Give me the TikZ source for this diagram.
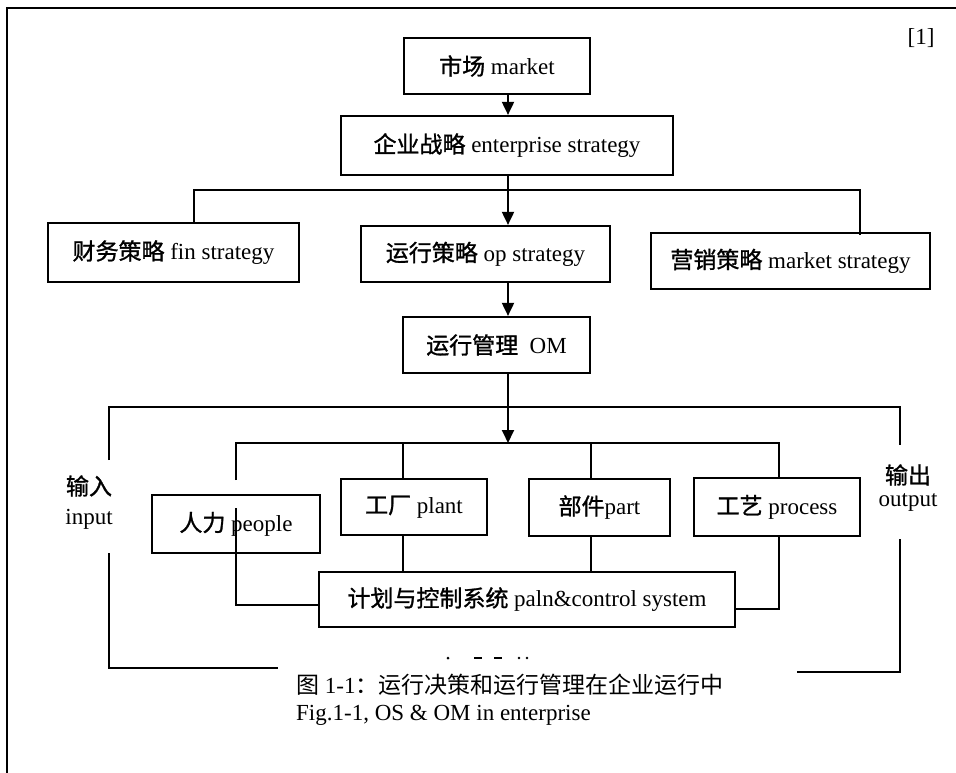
\documentclass[tikz,border=0pt]{standalone}
\usepackage{fontspec}
\setmainfont{Liberation Serif}
\newfontfamily\cjk[FakeBold=1.2]{Noto Sans CJK SC}
\newfontfamily\cjkcap{Noto Sans CJK SC}
\usetikzlibrary{arrows.meta}
\begin{document}
\begin{tikzpicture}[x=1pt,y=-1pt,
  box/.style={draw, line width=2.2pt, inner sep=0pt, font=\fontsize{23}{27}\selectfont},
  conn/.style={line width=1.9pt},
  arr/.style={conn, -{Triangle[length=13pt,width=12pt]}},
  lab/.style={font=\fontsize{23}{27}\selectfont, inner sep=0pt},
  frame/.style={line width=2.8pt}]
\useasboundingbox (0,0) rectangle (956,773);
% outer frame (left and top only, cut at image edges)
\coordinate (fbl) at (7,773);
\coordinate (ftl) at (7,8);
\coordinate (ftr) at (956,8);
\draw[frame] (fbl) -- (ftl) -- (ftr);
\node[lab] (ref) at (921,38) {[1]};
% boxes
\node[box, minimum width=186pt, minimum height=56pt] (market) at (497,66) {{\cjk 市场} market};
\node[box, minimum width=332pt, minimum height=59pt] (ent) at (507,145.5) {{\cjk 企业战略} enterprise strategy};
\node[box, minimum width=251pt, minimum height=59pt] (fin) at (173.5,252.5) {{\cjk 财务策略} fin strategy};
\node[box, minimum width=249pt, minimum height=56pt] (op) at (485.5,254) {{\cjk 运行策略} op strategy};
\node[box, minimum width=279pt, minimum height=56pt] (mkt) at (790.5,261) {{\cjk 营销策略} market strategy};
\node[box, minimum width=187pt, minimum height=56pt] (om) at (496.5,345) {{\cjk 运行管理}\ \ OM};
\node[box, minimum width=168pt, minimum height=58pt] (people) at (236,524) {{\cjk 人力} people};
\node[box, minimum width=146pt, minimum height=56pt] (plant) at (414,507) {{\cjk 工厂} plant};
\node[box, minimum width=141pt, minimum height=57pt] (part) at (599.5,507.5) {{\cjk 部件}part};
\node[box, minimum width=166pt, minimum height=58pt] (process) at (777,507) {{\cjk 工艺} process};
\node[box, minimum width=416pt, minimum height=55pt] (plan) at (527,599.5) {{\cjk 计划与控制系统} paln\&control system};
% labels
\node[lab] (in1) at (89,486) {\cjk 输入};
\node[lab] (in2) at (89,519) {input};
\node[lab] (out1) at (908,475) {\cjk 输出};
\node[lab] (out2) at (908,502) {output};
\node[lab, anchor=base west] (cap1) at (296,693) {{\cjkcap 图} 1-1{\cjkcap ：运行决策和运行管理在企业运行中}};
\node[lab, anchor=base west] (cap2) at (296,720) {Fig.1-1, OS \& OM in enterprise};
% connectors
\coordinate (spine) at (508,0);
\draw[arr] (market.south -| spine) -- (ent.north -| spine);
\draw[arr] (ent.south -| spine) -- (op.north -| spine);
\coordinate (bl) at (194,190);
\coordinate (brr) at (860,190);
\draw[conn] (fin.north -| bl) -- (bl) -- (brr) -- ([yshift=-3pt]mkt.north -| brr);
\draw[arr] (op.south -| spine) -- (om.north -| spine);
\coordinate (il) at (236,443);
\coordinate (ir) at (779,443);
\coordinate (ilb) at (236,480);
\draw[arr] (om.south -| spine) -- (spine |- il);
\draw[conn] (ilb) -- (il) -- (ir) -- (process.north -| ir);
\coordinate (plx) at (403,0);
\coordinate (pax) at (591,0);
\draw[conn] (plx |- il) -- (plant.north -| plx);
\draw[conn] (pax |- il) -- (part.north -| pax);
\draw[conn] (plant.south -| plx) -- (plan.north -| plx);
\draw[conn] (part.south -| pax) -- (plan.north -| pax);
\coordinate (pp1) at (236,508);
\coordinate (pp2) at (236,605);
\draw[conn] (pp1) -- (pp2) -- (plan.west |- pp2);
\coordinate (pr2) at (779,609);
\draw[conn] (process.south -| pr2) -- (pr2) -- (plan.east |- pr2);
% input/output loop
\coordinate (la) at (109,460);
\coordinate (lt) at (109,407);
\coordinate (rt) at (900,407);
\coordinate (ra) at (900,445);
\draw[conn] (la) -- (lt) -- (rt) -- (ra);
\coordinate (lb) at (109,553);
\coordinate (lbc) at (109,668);
\coordinate (lbe) at (278,668);
\draw[conn] (lb) -- (lbc) -- (lbe);
\coordinate (rb) at (900,539);
\coordinate (rbc) at (900,672);
\coordinate (rbe) at (797,672);
\draw[conn] (rb) -- (rbc) -- (rbe);
% faint marks above caption
\fill (448,658) circle (1.5);
\fill (474,656.5) rectangle (482,659);
\fill (494,656.5) rectangle (502,659);
\fill (519,658) circle (1.3);
\fill (527,658) circle (1.3);
\end{tikzpicture}
\end{document}
